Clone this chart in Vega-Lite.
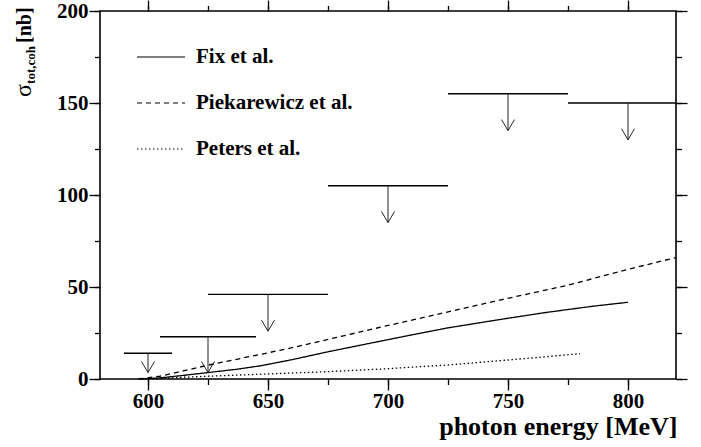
{
  "$schema": "https://vega.github.io/schema/vega-lite/v6.json",
  "width": 576,
  "height": 368,
  "autosize": {"type": "none"},
  "padding": {"left": 100, "top": 11, "right": 25, "bottom": 68},
  "background": "white",
  "config": {
    "view": {"stroke": "black", "strokeWidth": 1.6},
    "font": "Liberation Serif",
    "axis": {
      "grid": false,
      "domain": false,
      "tickColor": "black",
      "tickWidth": 1.3,
      "labelFont": "Liberation Serif",
      "labelFontWeight": "bold",
      "labelFontSize": 21,
      "labelColor": "black",
      "labelFlush": false,
      "labelOverlap": false,
      "labelBound": false
    }
  },
  "datasets": {
    "curves": [
      {"model": "Fix et al.", "E": 597, "sigma": 0},
      {"model": "Fix et al.", "E": 605, "sigma": 0.6},
      {"model": "Fix et al.", "E": 615, "sigma": 2},
      {"model": "Fix et al.", "E": 625, "sigma": 3.5},
      {"model": "Fix et al.", "E": 637, "sigma": 5.3},
      {"model": "Fix et al.", "E": 647, "sigma": 7.2},
      {"model": "Fix et al.", "E": 660, "sigma": 10.5},
      {"model": "Fix et al.", "E": 675, "sigma": 14.8},
      {"model": "Fix et al.", "E": 697, "sigma": 20.6},
      {"model": "Fix et al.", "E": 710, "sigma": 24},
      {"model": "Fix et al.", "E": 725, "sigma": 27.8},
      {"model": "Fix et al.", "E": 747, "sigma": 32.4},
      {"model": "Fix et al.", "E": 765, "sigma": 36},
      {"model": "Fix et al.", "E": 785, "sigma": 39.5},
      {"model": "Fix et al.", "E": 800, "sigma": 41.7},
      {"model": "Piekarewicz et al.", "E": 596, "sigma": 0},
      {"model": "Piekarewicz et al.", "E": 605, "sigma": 1.5},
      {"model": "Piekarewicz et al.", "E": 615, "sigma": 4.5},
      {"model": "Piekarewicz et al.", "E": 625, "sigma": 7.5},
      {"model": "Piekarewicz et al.", "E": 635, "sigma": 10.2},
      {"model": "Piekarewicz et al.", "E": 647, "sigma": 13.4},
      {"model": "Piekarewicz et al.", "E": 660, "sigma": 17},
      {"model": "Piekarewicz et al.", "E": 675, "sigma": 21.5},
      {"model": "Piekarewicz et al.", "E": 697, "sigma": 28.2},
      {"model": "Piekarewicz et al.", "E": 710, "sigma": 32},
      {"model": "Piekarewicz et al.", "E": 725, "sigma": 36.5},
      {"model": "Piekarewicz et al.", "E": 747, "sigma": 43},
      {"model": "Piekarewicz et al.", "E": 775, "sigma": 51},
      {"model": "Piekarewicz et al.", "E": 800, "sigma": 59.6},
      {"model": "Piekarewicz et al.", "E": 820, "sigma": 66},
      {"model": "Peters et al.", "E": 600, "sigma": 0},
      {"model": "Peters et al.", "E": 612, "sigma": 0.8},
      {"model": "Peters et al.", "E": 625, "sigma": 1.5},
      {"model": "Peters et al.", "E": 647, "sigma": 2.6},
      {"model": "Peters et al.", "E": 675, "sigma": 4},
      {"model": "Peters et al.", "E": 697, "sigma": 5.4},
      {"model": "Peters et al.", "E": 725, "sigma": 7.6},
      {"model": "Peters et al.", "E": 747, "sigma": 10},
      {"model": "Peters et al.", "E": 765, "sigma": 12},
      {"model": "Peters et al.", "E": 780, "sigma": 13.8}
    ],
    "limits": [
      {"Elo": 590, "Ehi": 610, "E": 600, "limit": 14, "tip": 3.5},
      {"Elo": 605, "Ehi": 645, "E": 625, "limit": 23, "tip": 3.5},
      {"Elo": 625, "Ehi": 675, "E": 650, "limit": 46, "tip": 26},
      {"Elo": 675, "Ehi": 725, "E": 700, "limit": 105, "tip": 85},
      {"Elo": 725, "Ehi": 775, "E": 750, "limit": 155, "tip": 135},
      {"Elo": 775, "Ehi": 820, "E": 800, "limit": 150, "tip": 130}
    ]
  },
  "resolve": {"axis": {"x": "independent", "y": "independent"}},
  "layer": [
    {
      "data": {"name": "curves"},
      "mark": {"type": "line", "color": "black", "strokeWidth": 1.3},
      "encoding": {
        "x": {
          "field": "E", "type": "quantitative",
          "scale": {"domain": [580, 820], "nice": false, "zero": false},
          "axis": {
            "orient": "bottom",
            "values": [600, 650, 700, 750, 800],
            "tickSize": 11,
            "labelPadding": 0,
            "encode": {"ticks": {"update": {"y2": {"value": -11}}}},
            "title": "photon energy [MeV]",
            "titleFont": "Liberation Serif",
            "titleFontWeight": "bold",
            "titleFontSize": 26,
            "titleColor": "black",
            "titleAnchor": "end",
            "titleAlign": "right",
            "titleBaseline": "alphabetic",
            "titleX": 577,
            "titleY": 55
          }
        },
        "y": {
          "field": "sigma", "type": "quantitative",
          "scale": {"domain": [0, 200], "nice": false, "zero": false},
          "axis": {
            "orient": "left",
            "values": [0, 50, 100, 150, 200],
            "tickSize": 11,
            "labelPadding": 1,
            "encode": {"ticks": {"update": {"x2": {"value": 11}}}},
            "title": null
          }
        },
        "strokeDash": {
          "field": "model", "type": "nominal",
          "scale": {
            "domain": ["Fix et al.", "Piekarewicz et al.", "Peters et al."],
            "range": [[1, 0], [5, 4], [1.5, 2.5]]
          },
          "legend": {
            "title": null,
            "orient": "none",
            "legendX": 36,
            "legendY": 23,
            "padding": 0,
            "symbolType": "stroke",
            "symbolSize": 2304,
            "symbolStrokeColor": "black",
            "symbolStrokeWidth": 1.2,
            "clipHeight": 46,
            "rowPadding": 0,
            "labelOffset": 10,
            "labelFont": "Liberation Serif",
            "labelFontWeight": "bold",
            "labelFontSize": 21,
            "labelColor": "black",
            "labelLimit": 400
          }
        }
      }
    },
    {
      "data": {"name": "limits"},
      "mark": {"type": "rule", "color": "black", "strokeWidth": 1.4},
      "encoding": {
        "x": {
          "field": "Elo", "type": "quantitative",
          "scale": {"domain": [580, 820], "nice": false, "zero": false},
          "axis": {
            "orient": "bottom",
            "values": [600, 625, 650, 675, 700, 725, 750, 775, 800],
            "tickSize": 5.5,
            "encode": {"ticks": {"update": {"y2": {"value": -5.5}}}},
            "labels": false,
            "title": null
          }
        },
        "x2": {"field": "Ehi"},
        "y": {
          "field": "limit", "type": "quantitative",
          "scale": {"domain": [0, 200], "nice": false, "zero": false},
          "axis": {
            "orient": "left",
            "values": [0, 25, 50, 75, 100, 125, 150, 175, 200],
            "tickSize": 5.5,
            "encode": {"ticks": {"update": {"x2": {"value": 5.5}}}},
            "labels": false,
            "title": null
          }
        }
      }
    },
    {
      "data": {"name": "limits"},
      "mark": {"type": "rule", "color": "#222", "strokeWidth": 1},
      "encoding": {
        "x": {
          "field": "E", "type": "quantitative",
          "scale": {"domain": [580, 820], "nice": false, "zero": false},
          "axis": {
            "orient": "top",
            "values": [600, 650, 700, 750, 800],
            "tickSize": 11,
            "encode": {"ticks": {"update": {"y2": {"value": 11}}}},
            "labels": false,
            "title": null
          }
        },
        "y": {
          "field": "limit", "type": "quantitative",
          "scale": {"domain": [0, 200], "nice": false, "zero": false},
          "axis": {
            "orient": "right",
            "values": [0, 50, 100, 150, 200],
            "tickSize": 11,
            "encode": {"ticks": {"update": {"x2": {"value": -11}}}},
            "labels": false,
            "title": null
          }
        },
        "y2": {"field": "tip"}
      }
    },
    {
      "data": {"name": "limits"},
      "mark": {
        "type": "point",
        "shape": "M-1,-1.7L0,0L1,-1.7",
        "size": 169,
        "filled": false,
        "stroke": "#222",
        "strokeWidth": 1,
        "opacity": 1
      },
      "encoding": {
        "x": {
          "field": "E", "type": "quantitative",
          "scale": {"domain": [580, 820], "nice": false, "zero": false},
          "axis": {
            "orient": "top",
            "values": [600, 625, 650, 675, 700, 725, 750, 775, 800],
            "tickSize": 5.5,
            "encode": {"ticks": {"update": {"y2": {"value": 5.5}}}},
            "labels": false,
            "title": null
          }
        },
        "y": {
          "field": "tip", "type": "quantitative",
          "scale": {"domain": [0, 200], "nice": false, "zero": false},
          "axis": {
            "orient": "right",
            "values": [0, 25, 50, 75, 100, 125, 150, 175, 200],
            "tickSize": 5.5,
            "encode": {"ticks": {"update": {"x2": {"value": -5.5}}}},
            "labels": false,
            "title": null
          }
        }
      }
    },
    {
      "data": {"values": [{}]},
      "mark": {
        "type": "text", "text": "σ", "angle": 270,
        "align": "left", "baseline": "alphabetic",
        "font": "Liberation Serif", "fontSize": 24, "color": "black"
      },
      "encoding": {
        "x": {"datum": 551.2, "type": "quantitative", "scale": {"domain": [580, 820], "nice": false, "zero": false}, "axis": null},
        "y": {"datum": 153.3, "type": "quantitative", "scale": {"domain": [0, 200], "nice": false, "zero": false}, "axis": null}
      }
    },
    {
      "data": {"values": [{}]},
      "mark": {
        "type": "text", "text": "tot,coh", "angle": 270,
        "align": "left", "baseline": "alphabetic", "dx": 13, "dy": 4,
        "font": "Liberation Serif", "fontWeight": "bold", "fontSize": 13, "color": "black"
      },
      "encoding": {
        "x": {"datum": 551.2, "type": "quantitative", "scale": {"domain": [580, 820], "nice": false, "zero": false}, "axis": null},
        "y": {"datum": 153.3, "type": "quantitative", "scale": {"domain": [0, 200], "nice": false, "zero": false}, "axis": null}
      }
    },
    {
      "data": {"values": [{}]},
      "mark": {
        "type": "text", "text": "[nb]", "angle": 270,
        "align": "left", "baseline": "alphabetic", "dx": 54,
        "font": "Liberation Serif", "fontWeight": "bold", "fontSize": 20, "color": "black"
      },
      "encoding": {
        "x": {"datum": 551.2, "type": "quantitative", "scale": {"domain": [580, 820], "nice": false, "zero": false}, "axis": null},
        "y": {"datum": 153.3, "type": "quantitative", "scale": {"domain": [0, 200], "nice": false, "zero": false}, "axis": null}
      }
    }
  ]
}
